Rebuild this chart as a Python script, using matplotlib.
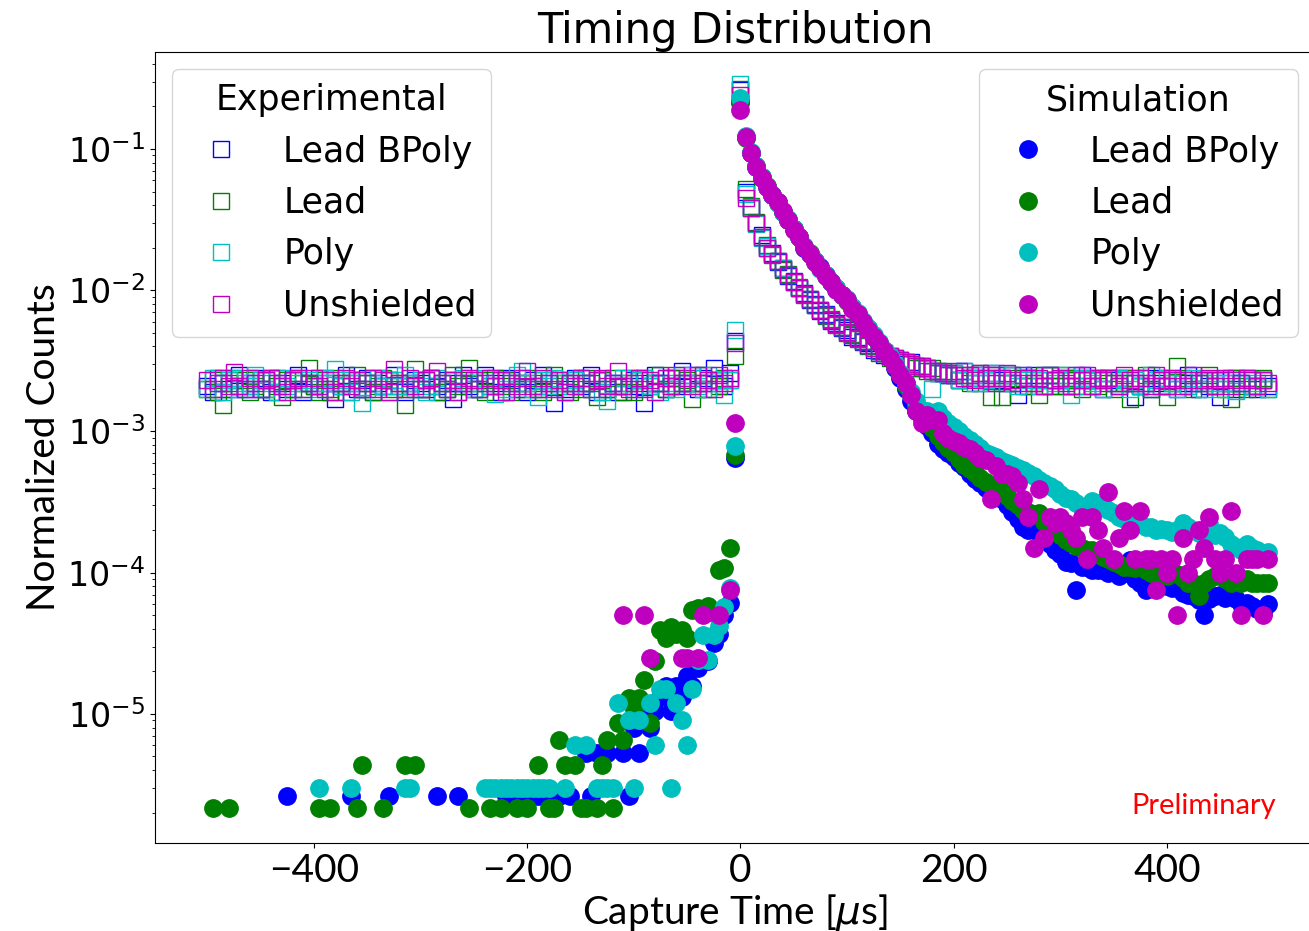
import numpy as np
import matplotlib.pyplot as plt

# bin positions (5 us bins)
t_bins = np.arange(-500, 500, 5)

labels = ["Lead BPoly", "Lead", "Poly", "Unshielded"]
colors = ["b", "g", "c", "m"]

# ---------- experimental, units of 1e-4 ----------
exp_bpoly_pre = [21, 19, 24, 22, 20, 23, 25, 20, 22, 24,
                 20, 23, 19, 24, 22, 20, 23, 25, 19, 22,
                 21, 24, 22, 19, 17, 21, 25, 22, 20, 23,
                 24, 19, 22, 21, 23, 25, 21, 19, 22, 23,
                 22, 20, 24, 21, 19, 23, 17, 22, 25, 21,
                 20, 23, 25, 21, 22, 19, 24, 23, 20, 22,
                 19, 23, 21, 25, 22, 16, 23, 20, 22, 24,
                 21, 22, 25, 19, 23, 20, 22, 19, 21, 24,
                 23, 21, 16, 22, 25, 22, 20, 24, 21, 27,
                 22, 25, 20, 24, 22, 28, 23, 21, 26, 44]
exp_lead_pre = [20, 23, 19, 15.5, 22, 24, 21, 23, 19, 21,
                23, 20, 24, 21, 17.5, 23, 20, 24, 22, 28,
                21, 19, 23, 20, 24, 22, 19, 23, 25, 20,
                22, 19, 21, 24, 23, 20, 22, 15.5, 21, 27.5,
                20, 23, 24, 19, 22, 20, 25, 21, 23, 28,
                22, 20, 19, 23, 24, 21, 23, 19, 22, 20,
                24, 22, 20, 19, 23, 25, 21, 22, 19, 23,
                20, 24, 22, 17.5, 23, 20, 24, 21, 19, 22,
                19, 23, 24, 21, 22, 25, 20, 21, 24, 22,
                23, 17, 22, 25, 20, 23, 21, 24, 23, 34]
exp_poly_pre = [20, 24, 22, 19, 23, 24, 20, 22, 21, 25,
                23, 20, 22, 19, 24, 21, 23, 22, 20, 23,
                22, 20, 24, 22, 27.5, 21, 23, 19, 22, 16,
                20, 22, 24, 21, 19, 23, 21, 25, 22, 20,
                23, 19, 21, 24, 22, 20, 23, 19, 24, 22,
                20, 22, 24, 21, 18.5, 23, 20, 22, 25, 27,
                22, 20, 17.5, 23, 21, 24, 22, 19, 21, 23,
                24, 22, 20, 23, 19, 16.5, 22, 21, 24, 22,
                20, 23, 24, 21, 22, 19, 24, 22, 20, 25,
                22, 24, 21, 20, 25, 23, 22, 18, 23, 52]
exp_unsh_pre = [23, 20, 22, 24, 21, 26.5, 21, 20, 24, 22,
                20, 23, 24, 22, 21, 19, 23, 24, 20, 22,
                24, 21, 20, 23, 19, 22, 24, 21, 23, 20,
                22, 24, 20, 23, 19, 27.5, 22, 20, 24, 21,
                20, 23, 24, 27, 22, 20, 23, 19, 22, 24,
                23, 20, 22, 24, 21, 23, 19, 22, 21, 24,
                27, 21, 20, 24, 22, 20, 23, 19, 22, 21,
                24, 22, 20, 23, 24, 21, 22, 27, 21, 20,
                22, 24, 20, 23, 19, 22, 24, 21, 25, 22,
                24, 21, 25, 22, 23, 20, 25, 22, 24, 42]

exp_bpoly_post = [2600, 500, 385, 300, 245, 200, 182, 158, 144, 127,
                  116, 103, 95, 85, 80, 71, 68, 61, 59, 54,
                  52, 47, 47, 43, 42, 38, 37, 35, 34, 32,
                  32, 30, 31, 29, 28, 28, 27, 26, 26, 25,
                  25, 23, 27, 24, 25, 22, 24, 26, 23, 24,
                  25, 22, 18, 24, 21, 25, 23, 21, 25, 23,
                  21, 24, 23, 21, 25, 23, 21, 23, 20, 24,
                  23, 21, 24, 22, 17.5, 21, 24, 20, 22, 24,
                  21, 23, 20, 22, 25, 22, 20, 23, 21, 23,
                  17.5, 22, 24, 20, 22, 24, 21, 20, 23, 21]
exp_lead_post = [2650, 520, 395, 305, 240, 210, 178, 162, 140, 130,
                 114, 105, 93, 87, 78, 73, 66, 63, 57, 55,
                 50, 49, 45, 44, 40, 40, 36, 36, 33, 33,
                 31, 31, 30, 28, 29, 27, 28, 26, 27, 25,
                 26, 23, 25, 22, 24, 26, 23, 17.5, 25, 17.5,
                 22, 25, 24, 21, 24, 22, 18, 25, 21, 23,
                 25, 21, 23, 24, 20, 23, 24, 21, 24, 22,
                 20, 24, 22, 17, 24, 21, 25, 20, 23, 21,
                 17.5, 22, 29, 24, 21, 20, 23, 22, 25, 21,
                 23, 20, 17, 24, 21, 20, 23, 21, 24, 20]
exp_poly_post = [2900, 480, 390, 295, 235, 205, 180, 160, 143, 128,
                 115, 104, 94, 86, 79, 73, 67, 62, 58, 55,
                 51, 48, 46, 44, 41, 39, 37, 36, 34, 33,
                 32, 31, 30, 29, 29, 28, 20, 27, 26, 26,
                 26, 23, 27, 24, 22, 25, 23, 22, 26, 24,
                 22, 25, 21, 25, 23, 24, 21, 23, 25, 22,
                 23, 25, 18, 21, 24, 24, 22, 23, 20, 24,
                 22, 24, 23, 20, 23, 21, 22, 25, 23, 21,
                 24, 22, 20, 23, 21, 24, 22, 20, 23, 22,
                 20, 23, 22, 19.5, 22, 24, 21, 22, 23, 20]
exp_unsh_post = [2400, 450, 380, 300, 240, 200, 180, 160, 142, 128,
                 115, 104, 94, 86, 79, 72, 67, 62, 58, 55,
                 51, 48, 46, 44, 41, 39, 37, 36, 34, 33,
                 32, 31, 30, 29, 29, 28, 27, 27, 26, 26,
                 25, 27, 24, 25, 23, 26, 24, 25, 22, 24,
                 26, 23, 22, 25, 24, 22, 24, 21, 25, 23,
                 24, 22, 21, 25, 23, 25, 21, 24, 23, 24,
                 22, 21, 25, 23, 22, 24, 22, 21, 25, 23,
                 21, 24, 23, 21, 23, 25, 22, 23, 24, 21,
                 23, 24, 21, 23, 22, 24, 23, 21, 23, 22]

# ---------- simulation ----------
# after t=0, units of 1e-4
sim_bpoly_post = [2200, 1220, 930, 750, 620, 540, 470, 420, 360, 315,
                  270, 240, 200, 180, 160, 145, 128, 115, 102, 92,
                  85, 75, 68, 60, 53, 47, 42, 37, 33, 28,
                  24, 20, 16.5, 14, 12.5, 11, 9.8, 8.2, 7.5, 7.0,
                  6.6, 6.0, 5.6, 5.0, 4.6, 4.3, 4.0, 3.8, 3.5, 3.3,
                  3.0, 2.7, 2.4, 2.1, 2.0, 2.0, 1.9, 1.7, 1.6, 1.45,
                  1.35, 1.2, 1.17, 0.75, 1.1, 1.1, 1.05, 1.05, 1.05, 1.0,
                  1.1, 0.95, 1.0, 1.23, 0.9, 0.85, 0.76, 0.8, 0.85, 0.8,
                  0.8, 0.78, 0.85, 0.72, 0.7, 0.68, 0.64, 0.5, 0.65, 0.68,
                  0.7, 0.66, 0.72, 0.65, 0.6, 0.61, 0.58, 0.55, 0.52, 0.6]
sim_lead_post = [2100, 1200, 940, 760, 630, 545, 470, 415, 360, 312,
                 272, 238, 203, 182, 158, 143, 127, 114, 103, 93,
                 84, 76, 67, 60, 54, 47, 42, 38, 33, 29,
                 25, 21, 18, 15.5, 13.5, 12, 10.5, 9.3, 8.4, 7.6,
                 7.0, 6.4, 5.8, 5.4, 5.1, 4.7, 4.4, 4.2, 4.07, 3.8,
                 3.5, 3.2, 3.0, 2.8, 2.7, 2.6, 2.65, 2.3, 2.1, 2.0,
                 1.85, 1.7, 1.62, 1.55, 1.5, 1.45, 1.45, 1.35, 1.3, 1.25,
                 1.2, 1.15, 1.1, 1.1, 1.08, 1.1, 1.05, 1.0, 1.05, 1.0,
                 0.95, 1.0, 0.98, 0.92, 0.85, 0.85, 0.68, 0.85, 0.9, 0.95,
                 1.0, 0.9, 0.85, 0.88, 0.85, 0.9, 0.85, 0.85, 0.85, 0.85]
sim_poly_post = [2300, 1230, 950, 760, 630, 540, 475, 415, 360, 318,
                 270, 240, 205, 180, 160, 142, 128, 115, 103, 93,
                 86, 76, 69, 61, 54, 48, 43, 38, 34, 30,
                 26, 22, 19, 16.5, 14.2, 14, 13, 14, 12.5, 11.5,
                 10.8, 10, 9.3, 8.7, 8.2, 7.6, 7.0, 6.8, 6.6, 6.2,
                 6.0, 5.8, 5.5, 5.3, 5.1, 4.8, 4.5, 4.3, 4.1, 3.9,
                 3.6, 3.4, 3.3, 3.1, 2.9, 2.9, 3.2, 3.1, 3.0, 2.8,
                 2.65, 2.5, 2.4, 2.37, 2.3, 2.2, 2.1, 2.1, 2.0, 2.05,
                 2.0, 1.95, 2.0, 2.25, 2.1, 2.0, 1.9, 1.9, 2.2, 1.85,
                 1.9, 1.8, 1.6, 1.53, 1.45, 1.6, 1.5, 1.45, 1.3, 1.4]
sim_unsh_post = [1900, 1210, 930, 750, 625, 540, 470, 420, 362, 315,
                 268, 238, 202, 180, 158, 143, 126, 115, 101, 92,
                 85, 74, 68, 60, 52, 47, 42, 37, 33, 29,
                 25, 22, 18, 14, 11.5, 13, 12, 12, 9.8, 9.0,
                 8.5, 8.3, 7.8, 7.5, 7.0, 6.5, 6.3, 3.3, 5.7, 5.0,
                 5.0, 4.8, 4.3, 3.3, 2.5, 1.5, 3.9, 1.75, 2.5, 2.25,
                 2.5, 2.25, 2.0, 1.75, 2.5, 1.25, 2.5, 2.0, 1.5, 3.75,
                 1.25, 1.75, 2.75, 2.0, 1.25, 2.75, 1.25, 1.25, 0.75, 1.25,
                 1.0, 1.25, 0.5, 1.75, 1.0, 1.25, 2.0, 1.5, 2.5, 1.25,
                 1.0, 1.25, 2.75, 1.0, 0.5, 1.25, 1.25, 1.25, 0.5, 1.25]

# before t=0: sparse bins, raw counts times one-count level
sim_bpoly_pre_t = [-425, -365, -330, -285, -265, -220, -215, -205, -200, -195,
                   -190, -185, -180, -170, -160, -145, -140, -135, -130, -125,
                   -110, -105, -100, -95, -90, -85, -80, -75, -70, -65,
                   -60, -55, -50, -45, -40, -35, -30, -25, -20, -15, -10, -5]
sim_bpoly_pre_n = [1, 1, 1, 1, 1, 1, 1, 1, 1, 1,
                   1, 1, 1, 1, 1, 2, 1, 2, 2, 2,
                   2, 1, 3, 2, 4, 3, 4, 5, 6, 4,
                   6, 5, 7, 6, 8, 9, 9, 12, 14, 19, 23, 245]
sim_bpoly_unit = 2.64e-6

sim_lead_pre_t = [-495, -480, -395, -385, -360, -355, -335, -315, -305, -255,
                  -235, -225, -210, -200, -190, -180, -175, -170, -165, -155,
                  -150, -145, -135, -130, -125, -120, -115, -110, -105, -100,
                  -95, -90, -85, -80, -75, -70, -65, -60, -55, -50,
                  -45, -40, -35, -30, -25, -20, -15, -10, -5]
sim_lead_pre_n = [1, 1, 1, 1, 1, 2, 1, 2, 2, 1,
                  1, 1, 1, 1, 2, 1, 1, 3, 2, 2,
                  1, 1, 1, 2, 3, 1, 4, 3, 6, 5,
                  6, 8, 4, 11, 18, 16, 19, 17, 18, 16,
                  25, 26, 25, 27, 24, 48, 50, 69, 313]
sim_lead_unit = 2.17e-6

sim_poly_pre_t = [-395, -365, -315, -310, -240, -235, -230, -225, -220, -215,
                  -210, -205, -200, -195, -190, -185, -180, -165, -155, -145,
                  -135, -130, -125, -120, -115, -105, -100, -95, -85, -80,
                  -75, -70, -65, -60, -55, -50, -45, -40, -35, -30,
                  -25, -20, -15, -10, -5]
sim_poly_pre_n = [1, 1, 1, 1, 1, 1, 1, 1, 1, 1,
                  1, 1, 1, 1, 1, 1, 1, 1, 2, 2,
                  1, 1, 1, 1, 4, 3, 1, 3, 4, 2,
                  5, 5, 1, 4, 3, 2, 5, 8, 12, 8,
                  12, 14, 19, 26, 263]
sim_poly_unit = 3.0e-6

sim_unsh_pre_t = [-110, -90, -85, -55, -50, -40, -35, -20, -10, -5]
sim_unsh_pre_n = [2, 2, 1, 1, 1, 1, 2, 2, 3, 46]
sim_unsh_unit = 2.5e-5


def exp_series(pre, post):
    return np.array(pre + post) * 1e-4


def sim_series(pre_t, pre_n, unit, post):
    y = np.full(len(t_bins), np.nan)
    idx = (np.array(pre_t) + 500) // 5
    y[idx] = np.array(pre_n) * unit
    y[len(t_bins) // 2:] = np.array(post) * 1e-4
    return y


exp_data = [exp_series(exp_bpoly_pre, exp_bpoly_post),
            exp_series(exp_lead_pre, exp_lead_post),
            exp_series(exp_poly_pre, exp_poly_post),
            exp_series(exp_unsh_pre, exp_unsh_post)]
sim_data = [sim_series(sim_bpoly_pre_t, sim_bpoly_pre_n, sim_bpoly_unit, sim_bpoly_post),
            sim_series(sim_lead_pre_t, sim_lead_pre_n, sim_lead_unit, sim_lead_post),
            sim_series(sim_poly_pre_t, sim_poly_pre_n, sim_poly_unit, sim_poly_post),
            sim_series(sim_unsh_pre_t, sim_unsh_pre_n, sim_unsh_unit, sim_unsh_post)]

fig = plt.figure(figsize=(13.09, 9.31), dpi=100)
# right part of the axes runs off the picture, as in the original crop
ax = fig.add_axes([155 / 1309, 88 / 931, 1160 / 1309, 791 / 931])

exp_handles = []
for y, c, lab in zip(exp_data, colors, labels):
    h, = ax.plot(t_bins, y, 's', mfc='none', mec=c, ms=11, mew=1.0, label=lab)
    exp_handles.append(h)

sim_handles = []
for y, c, lab in zip(sim_data, colors, labels):
    h, = ax.plot(t_bins, y, 'o', color=c, ms=12.5, label=lab)
    sim_handles.append(h)

ax.set_yscale('log')
ax.set_xlim(-549.2, 539)
ax.set_ylim(1.22e-6, 0.486)

ax.set_title("Timing Distribution", fontsize=30)
ax.set_xlabel("Capture Time [$\\mu$s]", fontsize=28, family='Lato', labelpad=2)
ax.set_ylabel("Normalized Counts", fontsize=28, family='Lato')
ax.tick_params(axis='y', labelsize=24)
ax.tick_params(axis='x', labelsize=28)
for lbl in ax.get_xticklabels():
    lbl.set_family('Lato')

leg1 = ax.legend(handles=exp_handles, title="Experimental", loc='upper left',
                 fontsize=25, title_fontsize=25)
ax.add_artist(leg1)
ax.legend(handles=sim_handles, title="Simulation", loc='upper right',
          fontsize=25, title_fontsize=25)

ax.text(0.904, 0.047, "Preliminary", color='red', family='Lato', fontsize=21,
        ha='center', va='center', transform=ax.transAxes)

fig.savefig("out.png", dpi=100)
